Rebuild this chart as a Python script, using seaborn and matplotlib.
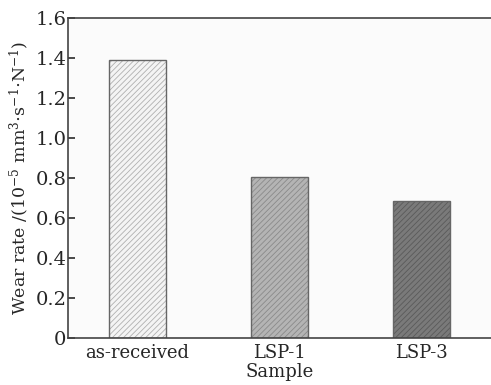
import matplotlib
matplotlib.use("Agg")
import pandas as pd
import seaborn as sns
from matplotlib import pyplot as plt

# Values
samples = ["as-received", "LSP-1", "LSP-3"]
wear_rate = [1.39, 0.805, 0.685]
bar_colors = ["#f4f4f4", "#b4b4b4", "#7a7a7a"]
hatch_colors = ["#b0b0b0", "#8a8a8a", "#5a5a5a"]

df = pd.DataFrame({"Sample": samples, "Wear rate": wear_rate})

sns.set_theme(style="ticks")
plt.rcParams["font.family"] = ["DejaVu Serif"]
plt.rcParams["mathtext.fontset"] = "dejavuserif"
plt.rcParams["hatch.linewidth"] = 0.6

fig = plt.figure(figsize=(4.91, 3.85), dpi=100)
ax = fig.add_axes([68 / 491, 1 - 338 / 385, 1 - 68 / 491, 320 / 385])
ax.set_facecolor("#fbfbfb")

sns.barplot(data=df, x="Sample", y="Wear rate", hue="Sample",
            palette=bar_colors, width=0.4, ax=ax, legend=False,
            edgecolor="#666666", linewidth=1.0)

for patch, hc in zip(ax.patches, hatch_colors):
    patch.set_hatch("//////")
    patch._hatch_color = matplotlib.colors.to_rgba(hc)

ax.set_xlim(-0.49, 2.49)
ax.set_ylim(0, 1.6)
ax.set_yticks([0, 0.2, 0.4, 0.6, 0.8, 1.0, 1.2, 1.4, 1.6])
ax.set_yticklabels(["0", "0.2", "0.4", "0.6", "0.8", "1.0", "1.2", "1.4", "1.6"])
ax.tick_params(axis="y", direction="in", length=5, labelsize=14, pad=1, color="#333333")
ax.tick_params(axis="x", length=0, labelsize=13, pad=4)
ax.set_xlabel("Sample", fontsize=13, labelpad=1)
ax.set_ylabel(r"Wear rate /(10$^{-5}$ mm$^{3}$$\cdot$s$^{-1}$$\cdot$N$^{-1}$)", fontsize=12.5, labelpad=3)
for side in ["left", "bottom", "top"]:
    ax.spines[side].set_color("#444444")
    ax.spines[side].set_linewidth(1.2)
ax.spines["right"].set_visible(False)

fig.savefig("out.png", dpi=100)
